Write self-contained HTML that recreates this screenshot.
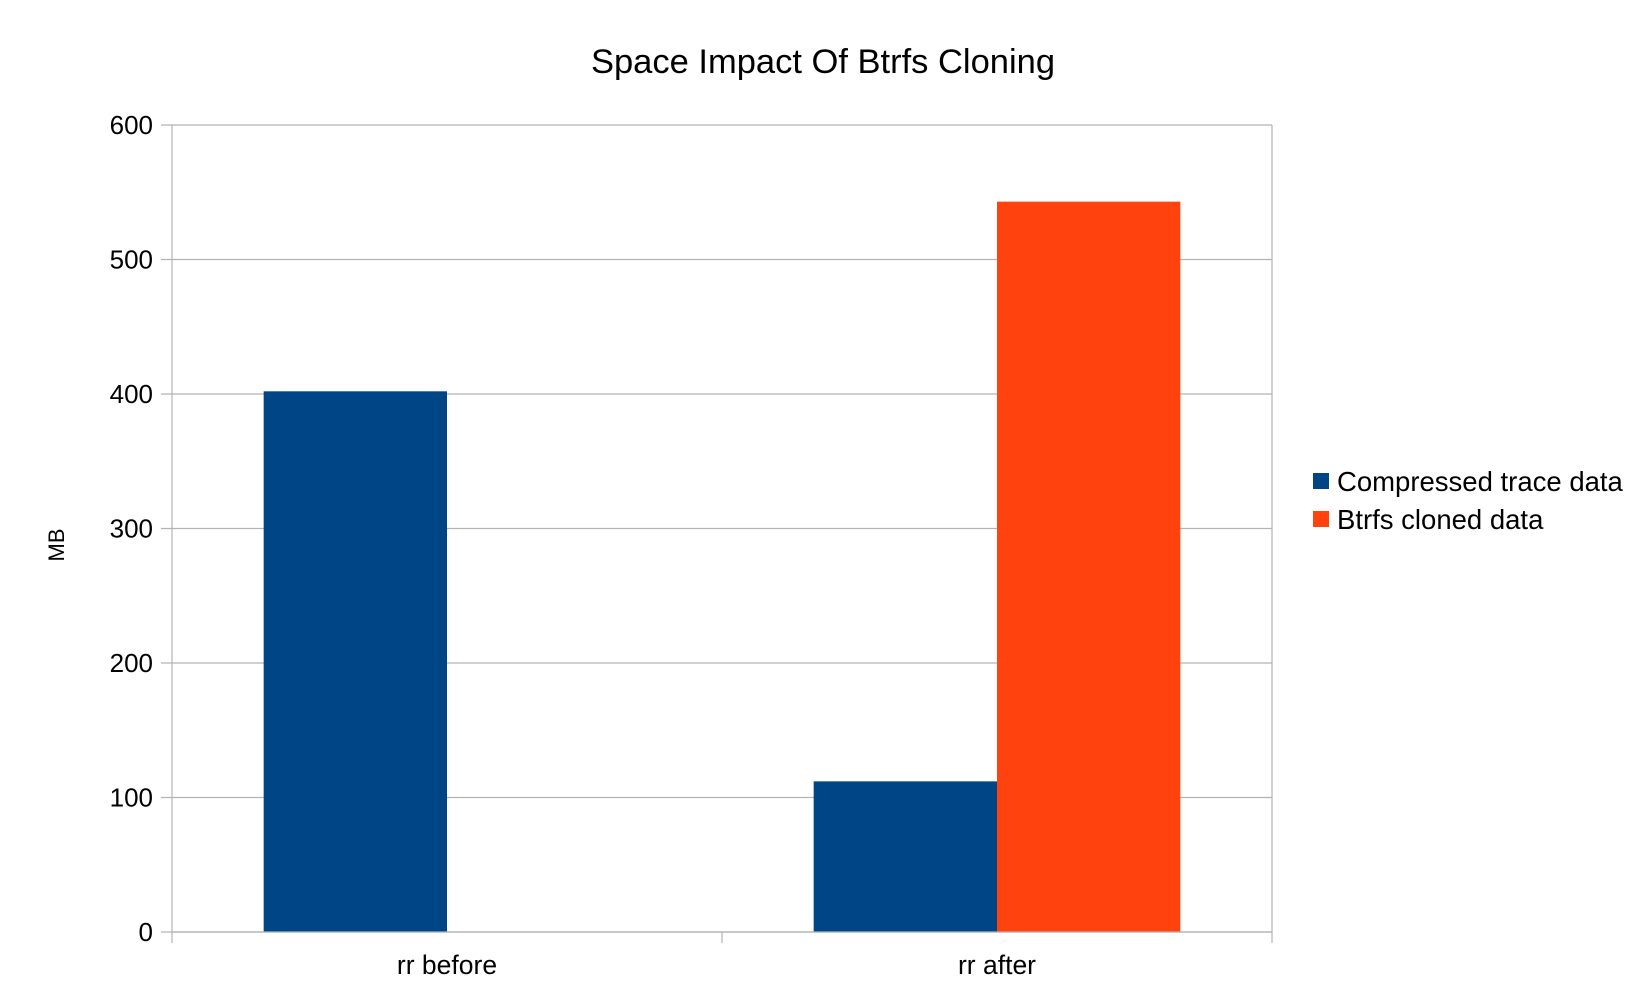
<!DOCTYPE html>
<html><head><meta charset="utf-8"><style>
html,body{margin:0;padding:0;background:#fff;}
svg text{font-family:"Liberation Sans",sans-serif;fill:#000;}
</style></head><body>
<svg id="chart" width="1645" height="1000" viewBox="0 0 1645 1000" xmlns="http://www.w3.org/2000/svg">
<rect x="0" y="0" width="1645" height="1000" fill="#fff"/>
<text x="823" y="73" font-size="34.5" text-anchor="middle">Space Impact Of Btrfs Cloning</text>
<text x="0" y="0" font-size="22" text-anchor="middle" transform="translate(64,545) rotate(-90)">MB</text>
<g id="grid"></g>
<g id="bars"></g>
<g id="axes"></g>
<g>
<rect x="1313" y="473" width="16" height="16" fill="#004586"/>
<text x="1337" y="491" font-size="27.5">Compressed trace data</text>
<rect x="1313" y="511" width="16" height="16" fill="#ff420e"/>
<text x="1337" y="529" font-size="27.5">Btrfs cloned data</text>
</g>
</svg>
<script>
const categories = ["rr before", "rr after"];
const compressed = [402, 112];
const cloned = [0, 543];
const yTicks = [0, 100, 200, 300, 400, 500, 600];
const seriesNames = ["compressed", "btrfs"];

const L = 172, R = 1272, T = 125, B = 932, yMax = 600;
const NS = "http://www.w3.org/2000/svg";
function y(v){ return B - (v / yMax) * (B - T); }
const catW = (R - L) / categories.length;
function xCat(i){ return L + i * catW; }
function mk(tag, attrs, parent){ const e = document.createElementNS(NS, tag); for (const k in attrs) e.setAttribute(k, attrs[k]); parent.appendChild(e); return e; }

const grid = document.getElementById('grid'), bars = document.getElementById('bars'), axes = document.getElementById('axes');
yTicks.forEach(t => {
  const g = mk('line', {x1: L - 11, x2: R, y1: y(t), y2: y(t), stroke: '#b3b3b3', 'stroke-width': 1.2}, grid);
  
  
  const lb = mk('text', {x: 153, y: y(t) + 9, 'font-size': 26, 'text-anchor': 'end'}, axes);
  lb.textContent = t;
  
  
});
const series = [compressed, cloned];
const colors = ['#004586', '#ff420e'];
const bw = catW / 3;
categories.forEach((c, i) => {
  series.forEach((s, j) => {
    const v = s[i];
    if (v <= 0) return;
    const x0 = xCat(i) + catW / 6 + j * bw;
    const r = mk('rect', {x: x0, y: y(v), width: bw, height: B - y(v), fill: colors[j]}, bars);
    
    
  });
  const lb = mk('text', {x: xCat(i) + catW / 2, y: 974, 'font-size': 26.5, 'text-anchor': 'middle'}, axes);
  lb.textContent = c;
  
  
});
for (let i = 0; i <= categories.length; i++) {
  const tk = mk('line', {x1: xCat(i), x2: xCat(i), y1: T, y2: B + 11, stroke: '#b3b3b3', 'stroke-width': 1.2}, axes);
  if (i > 0 && i < categories.length) tk.setAttribute('y1', B);
  
  
}
const base = mk('line', {x1: L, x2: R, y1: B, y2: B, stroke: '#b3b3b3', 'stroke-width': 1.2}, axes);


</script>
</body></html>
